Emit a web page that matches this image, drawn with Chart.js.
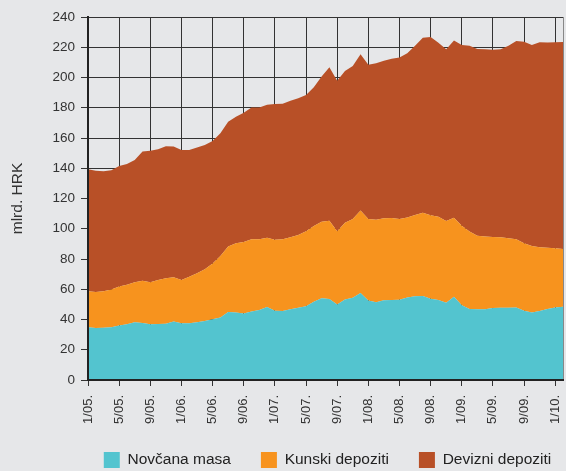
<!DOCTYPE html>
<html>
<head>
<meta charset="utf-8">
<script src="https://cdn.jsdelivr.net/npm/chart.js@4"></script>
<style>
  html, body { margin: 0; padding: 0; background: #e6e7e9; }
  #wrap { width: 566px; height: 471px; }
</style>
</head>
<body>
<div id="wrap"><canvas id="chart"></canvas></div>
<script>
// mjeseci 1/05. - 2/10.
const mjeseci = [
    '1/05.', '2/05.', '3/05.', '4/05.', '5/05.', '6/05.', '7/05.', '8/05.', '9/05.', '10/05.', '11/05.', '12/05.',
    '1/06.', '2/06.', '3/06.', '4/06.', '5/06.', '6/06.', '7/06.', '8/06.', '9/06.', '10/06.', '11/06.', '12/06.',
    '1/07.', '2/07.', '3/07.', '4/07.', '5/07.', '6/07.', '7/07.', '8/07.', '9/07.', '10/07.', '11/07.', '12/07.',
    '1/08.', '2/08.', '3/08.', '4/08.', '5/08.', '6/08.', '7/08.', '8/08.', '9/08.', '10/08.', '11/08.', '12/08.',
    '1/09.', '2/09.', '3/09.', '4/09.', '5/09.', '6/09.', '7/09.', '8/09.', '9/09.', '10/09.', '11/09.', '12/09.',
    '1/10.', '2/10.'
];

const novcanaMasa = [
    34.8, 34.4, 34.6, 34.8, 36.1, 36.8, 38.1, 37.7, 36.8, 37.0, 37.2, 38.6,
    37.5, 37.5, 38.1, 39.0, 40.1, 41.4, 45.0, 44.7, 43.9, 45.3, 46.3, 48.3,
    45.8, 45.6, 46.7, 47.8, 48.7, 51.8, 54.0, 53.6, 50.0, 53.3, 54.4, 57.5,
    52.5, 51.4, 52.7, 52.9, 53.1, 54.6, 55.3, 55.5, 53.8, 52.9, 51.1, 55.1,
    49.4, 46.9, 46.7, 46.7, 47.6, 47.8, 47.8, 48.0, 45.8, 44.7, 45.6, 46.9,
    48.0, 48.5
];

const kunskiDepoziti = [
    23.8, 23.8, 24.0, 25.1, 25.8, 26.2, 26.5, 28.0, 27.8, 29.1, 30.0, 29.3,
    28.6, 30.8, 32.4, 34.2, 37.0, 40.6, 43.2, 45.7, 47.3, 47.8, 46.7, 45.8,
    47.0, 47.4, 47.6, 48.1, 49.6, 50.0, 50.7, 51.7, 48.3, 50.7, 52.0, 54.5,
    53.9, 54.6, 54.2, 54.2, 53.3, 52.9, 53.8, 55.1, 55.1, 55.1, 54.0, 52.2,
    52.6, 51.2, 48.7, 48.1, 46.9, 46.5, 45.9, 45.0, 44.6, 43.9, 42.1, 40.6,
    39.1, 38.1
];

const devizniDepoziti = [
    80.7, 80.2, 79.4, 78.7, 79.6, 79.8, 80.9, 85.3, 87.0, 86.4, 87.3, 86.4,
    86.0, 83.8, 83.3, 82.2, 80.9, 81.1, 82.6, 83.7, 85.5, 87.1, 87.1, 87.9,
    89.7, 89.7, 90.4, 90.3, 90.1, 91.7, 95.9, 101.5, 99.6, 100.3, 101.2, 103.3,
    102.1, 103.4, 104.2, 105.3, 106.9, 108.5, 111.9, 115.6, 117.8, 115.0, 113.5, 117.2,
    119.5, 122.9, 123.4, 123.8, 123.9, 124.3, 127.3, 131.1, 133.3, 132.9, 135.6, 135.6,
    136.2, 136.9
];

Chart.defaults.font.family = '"Liberation Sans", Arial, sans-serif';
Chart.defaults.color = '#333';

// legenda je u originalu centrirana ispod grafa, ne ispod cijele slike
const pomakLegende = {
    id: 'pomakLegende',
    afterLayout(chart) {
        const l = chart.legend;
        l.left += 42;
        l.right += 42;
        l.top -= 8;
        l.bottom -= 8;
    }
};

const chart = document.getElementById('chart');

const ctx = new Chart(chart, {
    type: 'line',
    data: {
        labels: mjeseci,
        datasets: [
            {
                label: 'Novčana masa',
                data: novcanaMasa,
                backgroundColor: '#53c4cf',
                borderColor: '#53c4cf',
                borderWidth: 0,
                pointRadius: 0,
                fill: 'origin'
            },
            {
                label: 'Kunski depoziti',
                data: kunskiDepoziti,
                backgroundColor: '#f7931e',
                borderColor: '#f7931e',
                borderWidth: 0,
                pointRadius: 0,
                fill: '-1'
            },
            {
                label: 'Devizni depoziti',
                data: devizniDepoziti,
                backgroundColor: '#b85027',
                borderColor: '#b85027',
                borderWidth: 0,
                pointRadius: 0,
                fill: '-1'
            }
        ]
    },
    options: {
        responsive: true,
        maintainAspectRatio: false,
        animation: false,
        layout: {
            padding: { left: 8, right: 3, top: 17, bottom: -15 }
        },
        scales: {
            x: {
                stacked: true,
                offset: false,
                afterFit: s => { s.height = 50; s.paddingRight = 0; s.paddingLeft = 0; },
                border: { color: '#222', width: 2, z: 1 },
                grid: {
                    color: c => (c.index % 4 === 0) ? '#333' : (c.index === mjeseci.length - 1 ? '#888' : 'transparent'),
                    tickColor: c => (c.index % 4 === 0) ? '#333' : 'transparent',
                    tickLength: 6,
                    lineWidth: 1
                },
                ticks: {
                    autoSkip: false,
                    maxRotation: 90,
                    minRotation: 90,
                    padding: 9,
                    font: { size: 13 },
                    callback: function (v, i) { return i % 4 === 0 ? mjeseci[i] : ''; }
                }
            },
            y: {
                stacked: true,
                min: 0,
                max: 240,
                afterFit: s => { s.width = 80; },
                border: { color: '#222', width: 2, z: 1 },
                grid: {
                    color: '#333',
                    tickColor: '#333',
                    tickLength: 7,
                    lineWidth: 1
                },
                ticks: {
                    stepSize: 20,
                    padding: 6,
                    font: { size: 13.5 }
                },
                title: {
                    display: true,
                    text: 'mlrd. HRK',
                    font: { size: 15.5 },
                    padding: { top: 0, bottom: 8 }
                }
            }
        },
        plugins: {
            legend: {
                position: 'bottom',
                labels: {
                    boxWidth: 16,
                    boxHeight: 16,
                    padding: 30,
                    color: '#222',
                    font: { size: 15.5 }
                }
            },
            tooltip: { enabled: false }
        }
    },
    plugins: [pomakLegende]
});
</script>
</body>
</html>
